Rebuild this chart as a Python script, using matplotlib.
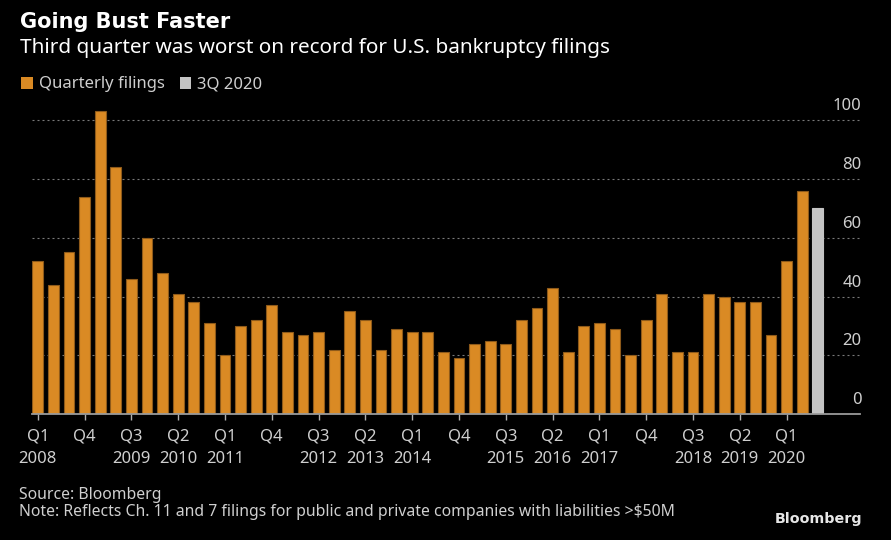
import matplotlib
matplotlib.use("Agg")
import matplotlib.pyplot as plt
import matplotlib.transforms as mtransforms
from matplotlib.patches import Rectangle

plt.rcParams['font.family'] = ['Noto Sans', 'DejaVu Sans']

# ---- data ----
filings = [52, 44, 55, 74, 103, 84, 46, 60, 48, 41, 38, 31, 20, 30, 32, 37,
           28, 27, 28, 22, 35, 32, 22, 29, 28, 28, 21, 19, 24, 25, 24, 32,
           36, 43, 21, 30, 31, 29, 20, 32, 41, 21, 21, 41, 40, 38, 38, 27,
           52, 76]
latest = [70]  # 3Q 2020
tick_idx = list(range(0, 49, 3))
tick_labels = ["Q1\n2008", "Q4", "Q3\n2009", "Q2\n2010", "Q1\n2011", "Q4",
               "Q3\n2012", "Q2\n2013", "Q1\n2014", "Q4", "Q3\n2015", "Q2\n2016",
               "Q1\n2017", "Q4", "Q3\n2018", "Q2\n2019", "Q1\n2020"]
yticks = [0, 20, 40, 60, 80, 100]

ORANGE = "#DA8A24"
EDGE = "#8E5A1A"
GREY = "#C4C4C4"
TXT = "#CFCFCF"
BG = "#000000"

W, H = 891, 540
fig = plt.figure(figsize=(W / 100, H / 100), dpi=100, facecolor=BG)
ax = fig.add_axes([32 / W, 1 - 414.3 / H, (860 - 32) / W, (414.3 - 100) / H])
ax.set_facecolor(BG)

x1 = list(range(len(filings)))
ax.bar(x1, filings, width=0.69, color=ORANGE, edgecolor=EDGE, linewidth=0.8, zorder=2)
x2 = [len(filings) + i for i in range(len(latest))]
ax.bar(x2, latest, width=0.69, color=GREY, edgecolor=GREY, linewidth=0.8, zorder=2)

ax.set_xlim(-0.37, 52.7)
ax.set_ylim(0, (414.3 - 100) / 2.943)

# grid
for v in yticks[1:]:
    ax.axhline(v, color="#7a7a7a", linewidth=0.8, linestyle=(0, (1.8, 2.7)), zorder=1)

for s in ["top", "left", "right"]:
    ax.spines[s].set_visible(False)
ax.spines["bottom"].set_color("#9a9a9a")
ax.spines["bottom"].set_linewidth(1.3)
ax.spines["bottom"].set_zorder(3)

ax.set_xticks(tick_idx)
ax.set_xticklabels(tick_labels, fontsize=12, color=TXT, linespacing=1.5)
ax.tick_params(axis="x", length=4.5, width=1, color="#b0b0b0", pad=6)

ax.yaxis.tick_right()
ax.set_yticks(yticks)
ax.set_yticklabels([str(v) for v in yticks], fontsize=12, color=TXT)
ax.tick_params(axis="y", length=0, pad=1)
off = mtransforms.ScaledTranslation(0, 10 / 100, fig.dpi_scale_trans)
for lbl in ax.get_yticklabels():
    lbl.set_horizontalalignment("right")
    lbl.set_verticalalignment("baseline")
    lbl.set_transform(lbl.get_transform() + off)

# titles
fig.text(20 / W, 1 - 28.3 / H, "Going Bust Faster", fontsize=15.0, fontweight="bold",
         family=["DejaVu Sans"], color="white", va="baseline", ha="left")
fig.text(20 / W, 1 - 52.7 / H, "Third quarter was worst on record for U.S. bankruptcy filings",
         fontsize=14.95, color="white", va="baseline", ha="left")

# legend
fig.patches.append(Rectangle((21 / W, 1 - 89.3 / H), 12 / W, 12 / H, transform=fig.transFigure,
                             facecolor=ORANGE, edgecolor="none"))
fig.text(39 / W, 1 - 88.5 / H, "Quarterly filings", fontsize=12, color=TXT, va="baseline")
fig.patches.append(Rectangle((180 / W, 1 - 89.3 / H), 11 / W, 12 / H, transform=fig.transFigure,
                             facecolor=GREY, edgecolor="none"))
fig.text(197 / W, 1 - 88.5 / H, "3Q 2020", fontsize=12, color=TXT, va="baseline")

# footer
fig.text(19 / W, 1 - 499 / H, "Source: Bloomberg", fontsize=11.35, color=TXT, va="baseline")
fig.text(19 / W, 1 - 516.5 / H,
         "Note: Reflects Ch. 11 and 7 filings for public and private companies with liabilities >$50M",
         fontsize=11.35, color=TXT, va="baseline")
fig.text(862 / W, 1 - 523.5 / H, "Bloomberg", fontsize=10.3, fontweight="bold",
         family=["DejaVu Sans"], color="#E6E6E6", va="baseline", ha="right")

fig.savefig("out.png", dpi=100, facecolor=BG)
